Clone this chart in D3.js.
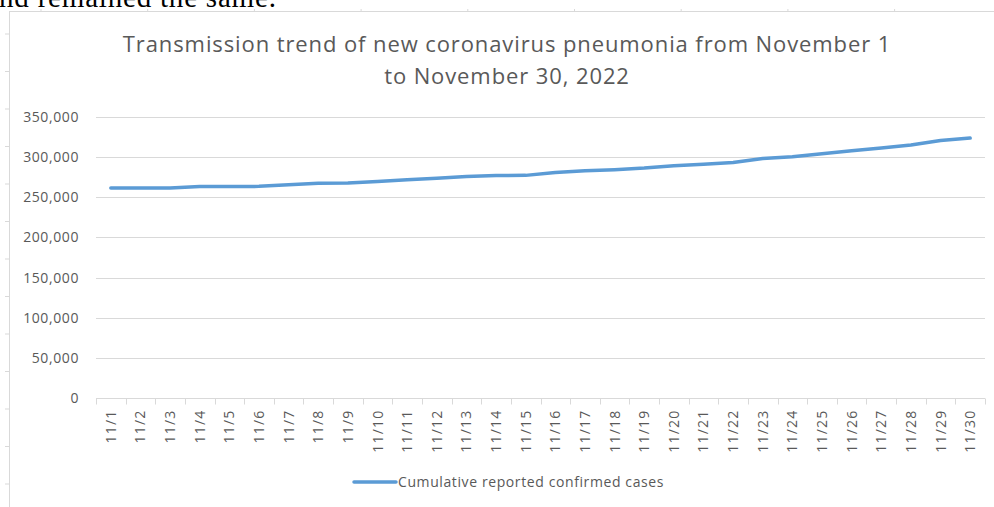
<!DOCTYPE html>
<html>
<head>
<meta charset="utf-8">
<script src="https://cdn.jsdelivr.net/npm/d3@7"></script>
<style>
  html, body { margin: 0; padding: 0; background: #fff; }
  svg { display: block; }
  .tick-label { font-family: "Open Sans", sans-serif; fill: #595959; }
</style>
</head>
<body>
<svg id="chart" width="994" height="507"></svg>
<script>
// --- Data ---
const days = ['11/1','11/2','11/3','11/4','11/5','11/6','11/7','11/8','11/9','11/10',
    '11/11','11/12','11/13','11/14','11/15','11/16','11/17','11/18','11/19','11/20',
    '11/21','11/22','11/23','11/24','11/25','11/26','11/27','11/28','11/29','11/30'];
const cumulativeCases = [261500, 261500, 261600, 263400, 263500, 263600, 265600, 267600, 267800, 269700,
    271800, 273800, 275800, 277000, 277300, 281000, 283000, 284400, 286400, 289300,
    291300, 293400, 298400, 300500, 304200, 308000, 311300, 315100, 320800, 323800];
const yTicks = [0, 50000, 100000, 150000, 200000, 250000, 300000, 350000];
const titleLines = ['Transmission trend of new coronavirus pneumonia from November 1', 'to November 30, 2022'];
const seriesName = 'Cumulative reported confirmed cases';

const width = 994, height = 507;
const margin = { top: 117, right: 9, bottom: 109, left: 96 };
const svg = d3.select('#chart');

// Document text cut off above the chart
svg.append('text')
    .attr('x', -1).attr('y', 7)
    .attr('font-family', '"Liberation Serif", serif')
    .attr('font-size', 29)
    .attr('letter-spacing', 0.8)
    .attr('fill', '#000')
    .text('nd remained the same.');

// Chart frame (embedded object border) with small ruler marks
svg.append('rect')
    .attr('x', 9.5).attr('y', 11.5)
    .attr('width', width + 10).attr('height', height + 10)
    .attr('fill', 'none').attr('stroke', '#d9d9d9');
d3.range(41, width, 106.7).forEach(x => {
    svg.append('line').attr('x1', x).attr('x2', x).attr('y1', 9).attr('y2', 11.5)
        .attr('stroke', '#d9d9d9');
});
d3.range(34, height, 37.5).forEach(y => {
    svg.append('line').attr('x1', 5).attr('x2', 9.5).attr('y1', y).attr('y2', y)
        .attr('stroke', '#d9d9d9');
});

// Title
svg.append('g').selectAll('text')
    .data(titleLines)
    .join('text')
    .attr('x', 507)
    .attr('y', (d, i) => 52 + i * 32)
    .attr('text-anchor', 'middle')
    .attr('font-family', '"Open Sans", sans-serif')
    .attr('font-size', 22)
    .attr('letter-spacing', 0.9)
    .attr('fill', '#595959')
    .text(d => d);

// Scales
const x = d3.scaleBand()
    .domain(days)
    .range([margin.left, width - margin.right]);
const y = d3.scaleLinear()
    .domain([0, 350000])
    .range([height - margin.bottom, margin.top]);

// Gridlines
svg.append('g')
    .selectAll('line')
    .data(yTicks.filter(d => d > 0))
    .join('line')
    .attr('x1', margin.left).attr('x2', width - margin.right)
    .attr('y1', d => Math.round(y(d)) + 0.5).attr('y2', d => Math.round(y(d)) + 0.5)
    .attr('stroke', '#d9d9d9');

// Y axis labels
const yAxis = svg.append('g')
    .attr('transform', `translate(${margin.left},0)`)
    .call(d3.axisLeft(y).tickValues(yTicks).tickSize(0).tickPadding(17).tickFormat(d3.format(',')));
yAxis.select('.domain').remove();
yAxis.selectAll('text')
    .attr('class', 'tick-label')
    .attr('font-size', 14)
    .attr('letter-spacing', 0.6)
    .attr('dy', '0.32em');

// X axis with category boundary ticks
const xBase = Math.round(y(0)) + 0.5;
svg.append('line')
    .attr('x1', margin.left).attr('x2', width - margin.right)
    .attr('y1', xBase).attr('y2', xBase)
    .attr('stroke', '#d9d9d9');
svg.append('g')
    .selectAll('line')
    .data(days.concat(['end']))
    .join('line')
    .attr('x1', (d, i) => Math.round(i < days.length ? x(d) : x.range()[1]) + 0.5)
    .attr('x2', (d, i) => Math.round(i < days.length ? x(d) : x.range()[1]) + 0.5)
    .attr('y1', xBase).attr('y2', xBase + 6)
    .attr('stroke', '#d9d9d9');
svg.append('g')
    .selectAll('text')
    .data(days)
    .join('text')
    .attr('class', 'tick-label')
    .attr('font-size', 14)
    .attr('letter-spacing', 1.2)
    .attr('text-anchor', 'end')
    .attr('transform', d => `translate(${x(d) + x.bandwidth() / 2 + 5},${xBase + 11}) rotate(-90)`)
    .text(d => d);

// Line
const line = d3.line()
    .x((d, i) => x(days[i]) + x.bandwidth() / 2)
    .y(d => y(d));
svg.append('path')
    .datum(cumulativeCases)
    .attr('fill', 'none')
    .attr('stroke', '#5b9bd5')
    .attr('stroke-width', 3.5)
    .attr('stroke-linecap', 'round')
    .attr('stroke-linejoin', 'round')
    .attr('d', line);

// Legend
const legend = svg.append('g').attr('transform', 'translate(354,482)');
legend.append('line')
    .attr('x1', 0).attr('x2', 42).attr('y1', 0).attr('y2', 0)
    .attr('stroke', '#5b9bd5').attr('stroke-width', 3.5).attr('stroke-linecap', 'round');
legend.append('text')
    .attr('class', 'tick-label')
    .attr('x', 44).attr('y', 0).attr('dy', '0.35em')
    .attr('font-size', 14)
    .attr('letter-spacing', 0.6)
    .text(seriesName);
</script>
</body>
</html>
